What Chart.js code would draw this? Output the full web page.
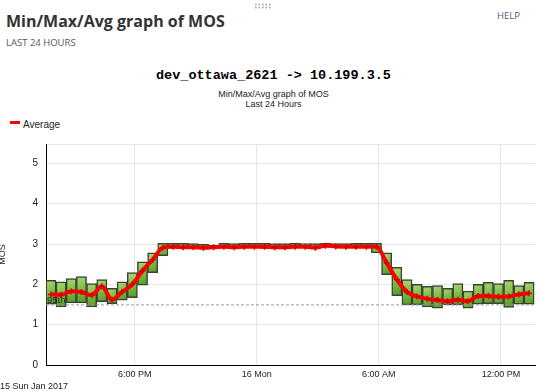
<!DOCTYPE html>
<html>
<head>
<meta charset="utf-8">
<script src="https://cdn.jsdelivr.net/npm/chart.js@4/dist/chart.umd.min.js"></script>
<style>
  body { margin: 0; width: 541px; height: 391px; overflow: hidden; position: relative; background: #fff; }
  .abs { position: absolute; white-space: nowrap; }
  #grip { left: 254px; top: 3px; width: 18px; height: 6px;
    background-image: radial-gradient(circle, #a9a9a9 0.9px, transparent 1.2px);
    background-size: 3.5px 3px; }
  #title { left: 6px; top: 13px; font: 700 16px/16px 'Open Sans', sans-serif; color: #333; }
  #period { left: 6px; top: 38px; font: 400 9.5px/10px 'Open Sans', sans-serif; color: #555; }
  #help { left: 497px; top: 11px; font: 400 9.5px/10px 'Open Sans', sans-serif; color: #4f6073; }
  .center { left: 0; width: 547px; text-align: center; }
  #ctitle { top: 69px; font: 700 13.5px/14px 'Liberation Mono', monospace; color: #000; }
  .sub { font: 400 9px/10px 'Liberation Sans', Arial, sans-serif; color: #222; }
  #legLine { left: 10px; top: 120.5px; width: 10px; height: 3px; background: #ff0000; }
  #legText { left: 23px; top: 118.5px; font: 400 10px/11px 'Liberation Sans', Arial, sans-serif; color: #222; }
  #day { left: 0; top: 381px; font: 400 9px/10px 'Liberation Sans', Arial, sans-serif; color: #222; }
  #chart { position: absolute; left: 0; top: 130px; }
</style>
</head>
<body>
<div class="abs" id="grip"></div>
<div class="abs" id="title">Min/Max/Avg graph of MOS</div>
<div class="abs" id="period">LAST 24 HOURS</div>
<div class="abs" id="help">HELP</div>
<div class="abs center" id="ctitle">dev_ottawa_2621 -&gt; 10.199.3.5</div>
<div class="abs center sub" style="top:89px">Min/Max/Avg graph of MOS</div>
<div class="abs center sub" style="top:98.5px">Last 24 Hours</div>
<div class="abs" id="legLine"></div>
<div class="abs" id="legText">Average</div>
<canvas id="chart" width="541" height="261"></canvas>
<div class="abs" id="day">15 Sun Jan 2017</div>
<script>
// half-hour bins, start times (rolls over midnight into 16 Jan)
const binStart = [
  '13:38','14:08','14:38','15:08','15:38','16:08','16:38','17:08','17:38','18:08',
  '18:38','19:08','19:38','20:08','20:38','21:08','21:38','22:08','22:38','23:08',
  '23:38','00:08','00:38','01:08','01:38','02:08','02:38','03:08','03:38','04:08',
  '04:38','05:08','05:38','06:08','06:38','07:08','07:38','08:08','08:38','09:08',
  '09:38','10:08','10:38','11:08','11:38','12:08','12:38','13:08'
];
const maxMos = [
  2.10, 2.06, 2.14, 2.19, 2.02, 2.12, 1.90, 2.06, 2.29, 2.56,
  2.78, 3.02, 3.02, 3.02, 3.01, 2.99, 2.97, 3.02, 3.01, 3.02,
  3.02, 3.02, 3.01, 3.01, 3.02, 3.01, 3.01, 3.02, 3.01, 3.01,
  3.02, 3.02, 3.02, 2.78, 2.42, 2.12, 2.00, 1.95, 1.97, 1.90,
  2.02, 1.83, 2.00, 2.05, 2.02, 2.10, 1.97, 2.05
];
const minMos = [
  1.51, 1.44, 1.54, 1.54, 1.44, 1.57, 1.52, 1.61, 1.67, 1.98,
  2.29, 2.71, 2.91, 2.91, 2.88, 2.88, 2.89, 2.91, 2.88, 2.91,
  2.91, 2.89, 2.88, 2.88, 2.91, 2.94, 2.88, 2.94, 2.91, 2.91,
  2.91, 2.91, 2.78, 2.24, 1.72, 1.49, 1.49, 1.44, 1.41, 1.49,
  1.49, 1.41, 1.51, 1.52, 1.52, 1.43, 1.51, 1.51
];
const avgMos = [
  1.75, 1.74, 1.83, 1.81, 1.73, 1.95, 1.62, 1.81, 2.00, 2.34,
  2.61, 2.91, 2.93, 2.92, 2.92, 2.91, 2.92, 2.93, 2.92, 2.93,
  2.93, 2.93, 2.92, 2.92, 2.93, 2.93, 2.91, 2.96, 2.94, 2.93,
  2.93, 2.93, 2.93, 2.53, 2.12, 1.81, 1.70, 1.64, 1.61, 1.58,
  1.62, 1.58, 1.71, 1.71, 1.69, 1.70, 1.75, 1.78
];
const p95 = 1.49;

const yTicks = [0, 1, 2, 3, 4, 5];
const xTickHours  = [18, 24, 30, 36];
const xTickLabels = ['6:00 PM', '16 Mon', '6:00 AM', '12:00 PM'];
const xMin = 13.64, xMax = 37.70, yMax = 5.48;

// bin start -> hours since 15 Jan 00:00, centred in its 30 min bin
function toHours(list) {
  let day = 0, prev = -1;
  return list.map(t => {
    const [h, m] = t.split(':').map(Number);
    if (h < prev) day += 24;
    prev = h;
    return day + h + m / 60 + 0.25;
  });
}
const binX = toHours(binStart);

function barFill(ctx) {
  const chart = ctx.chart;
  if (!chart.chartArea || !ctx.raw) return '#7ab648';
  const xs = chart.scales.x, ys = chart.scales.y;
  const x0 = xs.getPixelForValue(ctx.raw.x - 0.25), x1 = xs.getPixelForValue(ctx.raw.x + 0.25);
  const yT = ys.getPixelForValue(ctx.raw.y[1]), yB = ys.getPixelForValue(ctx.raw.y[0]);
  const g = chart.ctx.createLinearGradient(x0, yT, x1, yB + 1);
  g.addColorStop(0, '#addb73');
  g.addColorStop(0.5, '#7cba45');
  g.addColorStop(1, '#4c951d');
  return g;
}

const p95Label = {
  id: 'p95Label',
  afterDatasetsDraw(chart) {
    const c = chart.ctx, y = chart.scales.y.getPixelForValue(p95);
    c.save();
    c.font = "9.5px 'Liberation Sans', Arial, sans-serif";
    c.fillStyle = 'rgba(30,30,30,0.9)';
    c.textBaseline = 'alphabetic';
    c.fillText('95th', chart.chartArea.left + 1, y - 2);
    c.restore();
  }
};

Chart.defaults.font.family = "'Liberation Sans', Arial, sans-serif";
Chart.defaults.color = '#222';

new Chart(document.getElementById('chart'), {
  data: {
    datasets: [
      {
        type: 'line', label: 'Average', order: 0,
        data: binX.map((x, i) => ({ x, y: avgMos[i] })),
        borderColor: '#ff0000', borderWidth: 4,
        cubicInterpolationMode: 'monotone',
        pointStyle: 'cross', pointRadius: 3, pointBorderWidth: 1.5,
        pointBorderColor: '#d40000', pointBackgroundColor: '#d40000'
      },
      {
        type: 'line', label: '95th', order: 1,
        data: [{ x: xMin, y: p95 }, { x: xMax, y: p95 }],
        borderColor: '#9a9a9a', borderWidth: 1, borderDash: [3, 2],
        pointRadius: 0, tension: 0
      },
      {
        type: 'bar', label: 'Min/Max', order: 2,
        data: binX.map((x, i) => ({ x, y: [minMos[i], maxMos[i]] })),
        backgroundColor: barFill,
        borderColor: '#3a4334', borderWidth: 1.5, borderSkipped: false,
        barPercentage: 1, categoryPercentage: 1
      }
    ]
  },
  options: {
    responsive: false, animation: false, devicePixelRatio: 1,
    layout: { padding: { top: 11, right: 2, left: 0, bottom: 0 } },
    plugins: { legend: { display: false }, tooltip: { enabled: false }, title: { display: false } },
    scales: {
      x: {
        type: 'linear', min: xMin, max: xMax, offset: false,
        afterBuildTicks: s => { s.ticks = xTickHours.map(v => ({ value: v })); },
        afterFit: s => { s.height = 26; },
        grid: { color: '#e6e6e6', drawTicks: false, offset: false },
        border: { color: '#000', width: 1 },
        ticks: {
          padding: 4, maxRotation: 0, autoSkip: false, font: { size: 9 }, color: '#222',
          callback: v => xTickLabels[xTickHours.indexOf(v)] ?? ''
        }
      },
      y: {
        min: 0, max: yMax,
        afterBuildTicks: s => { s.ticks = yTicks.concat([yMax]).map(v => ({ value: v })); },
        afterFit: s => { s.width = 46; },
        grid: { color: '#e6e6e6', drawTicks: false },
        border: { color: '#000', width: 1 },
        ticks: {
          padding: 8, font: { size: 10 }, color: '#222',
          callback: v => yTicks.includes(v) ? String(v) : ''
        },
        title: { display: true, text: 'MOS', font: { size: 9 }, color: '#222', padding: { top: -3, bottom: 0 } }
      }
    }
  },
  plugins: [p95Label]
});
</script>
</body>
</html>
